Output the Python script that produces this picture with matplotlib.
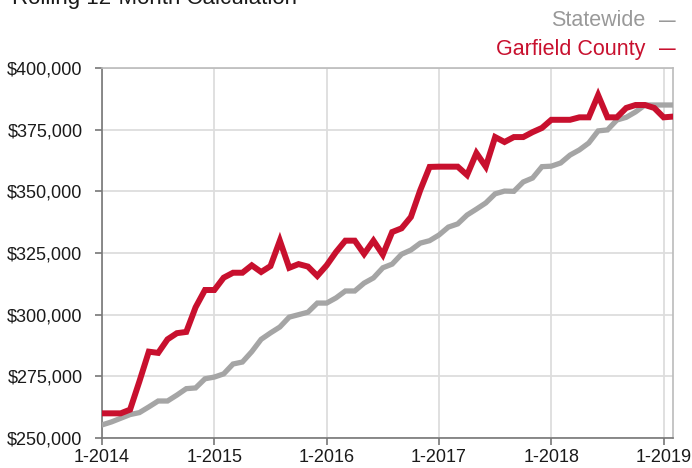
import numpy as np
import matplotlib.pyplot as plt

plt.rcParams['font.family'] = ['Liberation Sans', 'DejaVu Sans']

# Monthly rolling 12-month median price, Jan 2014 .. Feb 2019
garfield = [260000, 260000, 260000, 261500, 273000, 285000, 284500, 290000, 292500, 293000,
            303000, 310000, 310000, 315000, 317000, 317000, 320000, 317300, 319700, 330000,
            319000, 320500, 319500, 315700, 320000, 325400, 330000, 330000, 324600, 330000,
            324300, 333500, 335000, 339600, 350500, 359900, 360000, 360000, 360000, 356600,
            365500, 360000, 372000, 370000, 372000, 372000, 374000, 375700, 379000, 379000,
            379000, 380000, 380000, 389000, 380000, 380000, 383800, 385000, 385000, 383800,
            380000, 380300]
statewide = [255300, 256500, 258000, 259500, 260300, 262600, 265000, 265000, 267400, 270000,
             270300, 274000, 274700, 276000, 280000, 280800, 285000, 290000, 292600, 295000,
             299000, 300000, 301000, 304700, 304700, 306800, 309600, 309600, 312800, 314900,
             319000, 320500, 324500, 326200, 329000, 330000, 332300, 335500, 336800, 340400,
             342800, 345300, 349000, 350100, 350000, 353800, 355400, 360000, 360200, 361500,
             364700, 366800, 369600, 374500, 374900, 378900, 380000, 382200, 385000, 385000,
             385000, 385000]
year_labels = ['1-2014', '1-2015', '1-2016', '1-2017', '1-2018', '1-2019']
y_ticks = [250000, 275000, 300000, 325000, 350000, 375000, 400000]

red = '#C8102E'
gray = '#A5A5A5'

months = np.arange(len(garfield))

fig = plt.figure(figsize=(6.92, 4.68), dpi=100)
ax = fig.add_axes([102/692, 30/468, 571/692, 370/468])

ax.plot(months, statewide, color=gray, lw=3.8, solid_joinstyle='miter', zorder=3)
ax.plot(months, garfield, color=red, lw=4.3, solid_joinstyle='miter', zorder=4)

ax.set_xlim(0, len(garfield) - 1)
ax.set_ylim(250000, 400000)
ax.set_xticks(np.arange(0, 12 * len(year_labels), 12))
ax.set_xticklabels(year_labels)
ax.set_yticks(y_ticks)
ax.set_yticklabels([f'${v:,.0f}' for v in y_ticks])

ax.grid(True, color='#DDDDDD', lw=1.3, zorder=0)
ax.tick_params(axis='both', labelsize=13, colors='#777777', labelcolor='#1A1A1A',
               length=5, width=1.2)
ax.tick_params(axis='y', pad=9)
ax.tick_params(axis='x', pad=3)
for side in ['left', 'bottom']:
    ax.spines[side].set_color('#777777')
    ax.spines[side].set_linewidth(1.2)
for side in ['top', 'right']:
    ax.spines[side].set_color('#BBBBBB')
    ax.spines[side].set_linewidth(1.2)

fig.text(12/692, 1 - 4/468, 'Rolling 12-Month Calculation', fontsize=16,
         color='#1A1A1A', ha='left', va='baseline')

# legend: names right-aligned, short dash after each
legend_items = [('Statewide', '#999999', 21), ('Garfield County', red, 50)]
for name, col, ypix in legend_items:
    fig.text(645/692, 1 - ypix/468, name, fontsize=15.5, color=col,
             ha='right', va='center')
    fig.text(659/692, 1 - ypix/468, '—', fontsize=12, color=col,
             ha='left', va='center', fontweight='bold')

fig.savefig('out.png', dpi=100)
